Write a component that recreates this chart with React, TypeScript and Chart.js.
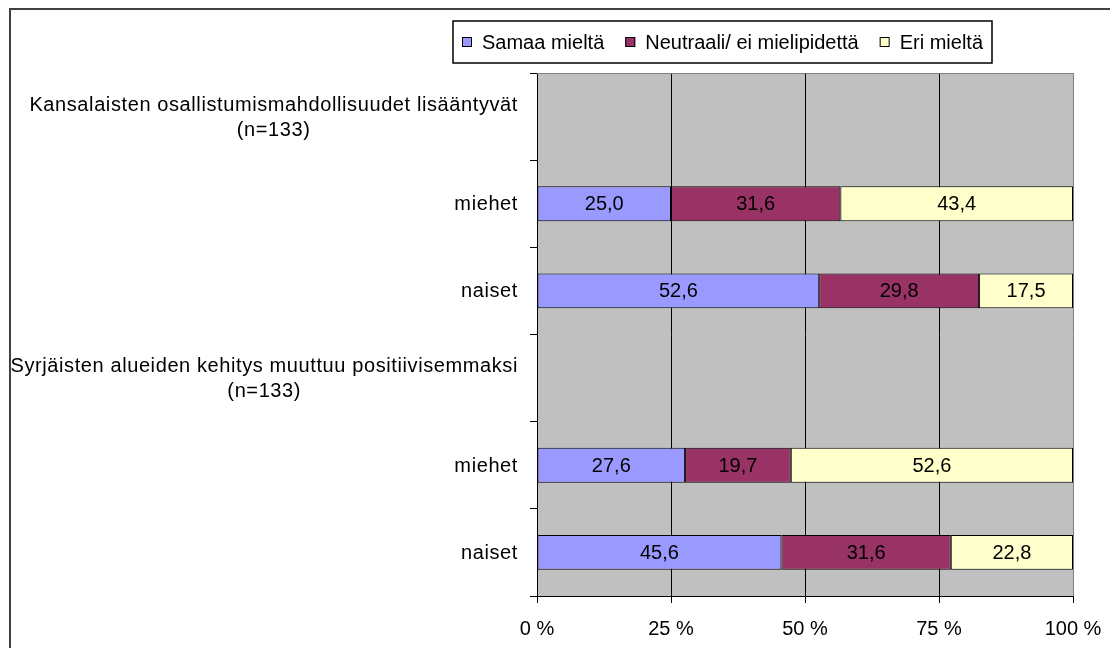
import React, { useEffect, useRef } from "react";
import { Chart, registerables } from "chart.js";

Chart.register(...registerables);

const categories: (string | string[])[] = [
  ["Kansalaisten osallistumismahdollisuudet lisääntyvät", "(n=133)"],
  "miehet",
  "naiset",
  ["Syrjäisten alueiden kehitys muuttuu positiivisemmaksi", "(n=133)"],
  "miehet",
  "naiset",
];
const seriesNames = ["Samaa mieltä", "Neutraali/ ei mielipidettä", "Eri mieltä"];
const samaaMielta: (number | null)[] = [null, 25.0, 52.6, null, 27.6, 45.6];
const neutraali: (number | null)[] = [null, 31.6, 29.8, null, 19.7, 31.6];
const eriMielta: (number | null)[] = [null, 43.4, 17.5, null, 52.6, 22.8];
const seriesColors = ["#9999FF", "#993366", "#FFFFCC"];
const xTickValues = [0, 25, 50, 75, 100];

const FONT = '"Liberation Sans", Arial, Helvetica, sans-serif';
const FS = 20;

const rawSeries = [samaaMielta, neutraali, eriMielta];
const totals = categories.map((_, i) =>
  rawSeries.reduce((s, arr) => s + (arr[i] ?? 0), 0)
);
const toPct = (arr: (number | null)[]) =>
  arr.map((v, i) => (v == null || !totals[i] ? null : (v / totals[i]) * 100));

const fmt = (v: number) => v.toFixed(1).replace(".", ",");

const decorPlugin = {
  id: "decor",
  beforeDraw(chart: any) {
    const { ctx, chartArea: a } = chart;
    ctx.save();
    ctx.fillStyle = "#ffffff";
    ctx.fillRect(0, 0, chart.width, chart.height);
    ctx.fillStyle = "#C0C0C0";
    ctx.fillRect(a.left, a.top, a.right - a.left, a.bottom - a.top);
    ctx.restore();
  },
  afterDatasetsDraw(chart: any) {
    const { ctx } = chart;
    ctx.save();
    ctx.font = `${FS}px ${FONT}`;
    ctx.fillStyle = "#000";
    ctx.textAlign = "center";
    ctx.textBaseline = "middle";
    rawSeries.forEach((arr, d) => {
      const meta = chart.getDatasetMeta(d);
      arr.forEach((v, i) => {
        if (v == null) return;
        const el = meta.data[i];
        if (!el) return;
        const p = el.getProps(["x", "base", "y"], true);
        ctx.fillText(fmt(v), (p.x + p.base) / 2, p.y + 1);
      });
    });
    ctx.restore();
  },
  afterDraw(chart: any) {
    const { ctx, chartArea: a } = chart;
    const yScale = chart.scales.y;
    ctx.save();
    // top border of plot area
    ctx.strokeStyle = "#808080";
    ctx.lineWidth = 1;
    ctx.beginPath();
    ctx.moveTo(a.left, Math.round(a.top) + 0.5);
    ctx.lineTo(a.right + 1, Math.round(a.top) + 0.5);
    ctx.stroke();

    // category labels
    ctx.font = `${FS}px ${FONT}`;
    ctx.fillStyle = "#000";
    ctx.textBaseline = "middle";
    (ctx as any).letterSpacing = "0.6px";
    const xRight = a.left - 19;
    const lh = 25;
    categories.forEach((lab, i) => {
      const yc = yScale.getPixelForValue(i);
      const lines = Array.isArray(lab) ? lab : [lab];
      if (lines.length === 1) {
        ctx.textAlign = "right";
        ctx.fillText(lines[0], xRight, yc + 1);
      } else {
        const maxW = Math.max(...lines.map((l) => ctx.measureText(l).width));
        const cx = xRight - maxW / 2;
        ctx.textAlign = "center";
        lines.forEach((l, k) => {
          ctx.fillText(l, cx, yc + (k - (lines.length - 1) / 2) * lh + 1);
        });
      }
    });
    (ctx as any).letterSpacing = "0px";

    // legend
    const bx0 = 453, bx1 = 992, by0 = 21, by1 = 63;
    ctx.strokeStyle = "#000";
    ctx.lineWidth = 1.5;
    ctx.strokeRect(bx0, by0, bx1 - bx0, by1 - by0);
    const sq = 10, gapT = 10, pad = 9;
    const tws = seriesNames.map((n) => ctx.measureText(n).width);
    const sum = tws.reduce((s, w) => s + w + sq + gapT, 0);
    const gap = (bx1 - bx0 - 2 * pad - sum) / (seriesNames.length - 1);
    let x = bx0 + pad;
    const ym = (by0 + by1) / 2;
    ctx.textAlign = "left";
    seriesNames.forEach((n, k) => {
      ctx.fillStyle = seriesColors[k];
      ctx.fillRect(x, ym - 5, sq, sq);
      ctx.strokeStyle = "#000";
      ctx.lineWidth = 1;
      ctx.strokeRect(x + 0.5, ym - 4.5, sq - 1, sq - 1);
      ctx.fillStyle = "#000";
      ctx.fillText(n, x + sq + gapT, ym + 1);
      x += sq + gapT + tws[k] + gap;
    });

    // outer frame
    ctx.strokeStyle = "#404040";
    ctx.lineWidth = 2;
    ctx.strokeRect(10, 9, 1300, 900);
    ctx.restore();
  },
};

export default function App() {
  const ref = useRef<HTMLCanvasElement>(null);
  useEffect(() => {
    const canvas = ref.current;
    if (!canvas) return;
    const chart = new Chart(canvas, {
      type: "bar",
      data: {
        labels: categories as any,
        datasets: rawSeries.map((arr, d) => ({
          label: seriesNames[d],
          data: toPct(arr) as any,
          backgroundColor: seriesColors[d],
          borderColor: "#000000",
          borderWidth: 1,
          borderSkipped: false,
          barPercentage: 0.4,
          categoryPercentage: 1.0,
        })),
      },
      options: {
        indexAxis: "y",
        responsive: false,
        animation: false,
        devicePixelRatio: 1,
        layout: { padding: { top: 73, right: 37, left: 0, bottom: 0 } },
        plugins: {
          legend: { display: false },
          title: { display: false },
          tooltip: { enabled: false },
        },
        scales: {
          x: {
            type: "linear",
            stacked: true,
            min: 0,
            max: 100,
            afterBuildTicks: (s: any) => {
              s.ticks = xTickValues.map((v) => ({ value: v }));
            },
            ticks: {
              callback: (v: any) => `${v} %`,
              font: { family: FONT, size: FS },
              color: "#000",
              padding: 14,
              maxRotation: 0,
              autoSkip: false,
            },
            grid: {
              color: (c: any) =>
                c.tick && c.tick.value === 100 ? "#808080" : "#000000",
              tickColor: "#000000",
              lineWidth: 1,
              drawTicks: true,
              tickLength: 7,
            },
            border: { display: true, color: "#000000", width: 1 },
            afterFit: (s: any) => {
              s.height = 52;
              s.paddingLeft = 0;
              s.paddingRight = 0;
            },
          },
          y: {
            type: "category",
            stacked: true,
            offset: true,
            ticks: { display: false },
            grid: {
              drawOnChartArea: false,
              drawTicks: true,
              tickLength: 7,
              offset: true,
              color: "#000000",
            },
            border: { display: true, color: "#000000", width: 1 },
            afterFit: (s: any) => {
              s.width = 537;
              s.paddingTop = 0;
              s.paddingBottom = 0;
            },
          },
        },
      },
      plugins: [decorPlugin],
    });
    return () => chart.destroy();
  }, []);
  return (
    <div
      style={{
        position: "fixed",
        left: 0,
        top: 0,
        width: 1110,
        height: 648,
        background: "#fff",
      }}
    >
      <canvas ref={ref} width={1110} height={648} style={{ display: "block" }} />
    </div>
  );
}
